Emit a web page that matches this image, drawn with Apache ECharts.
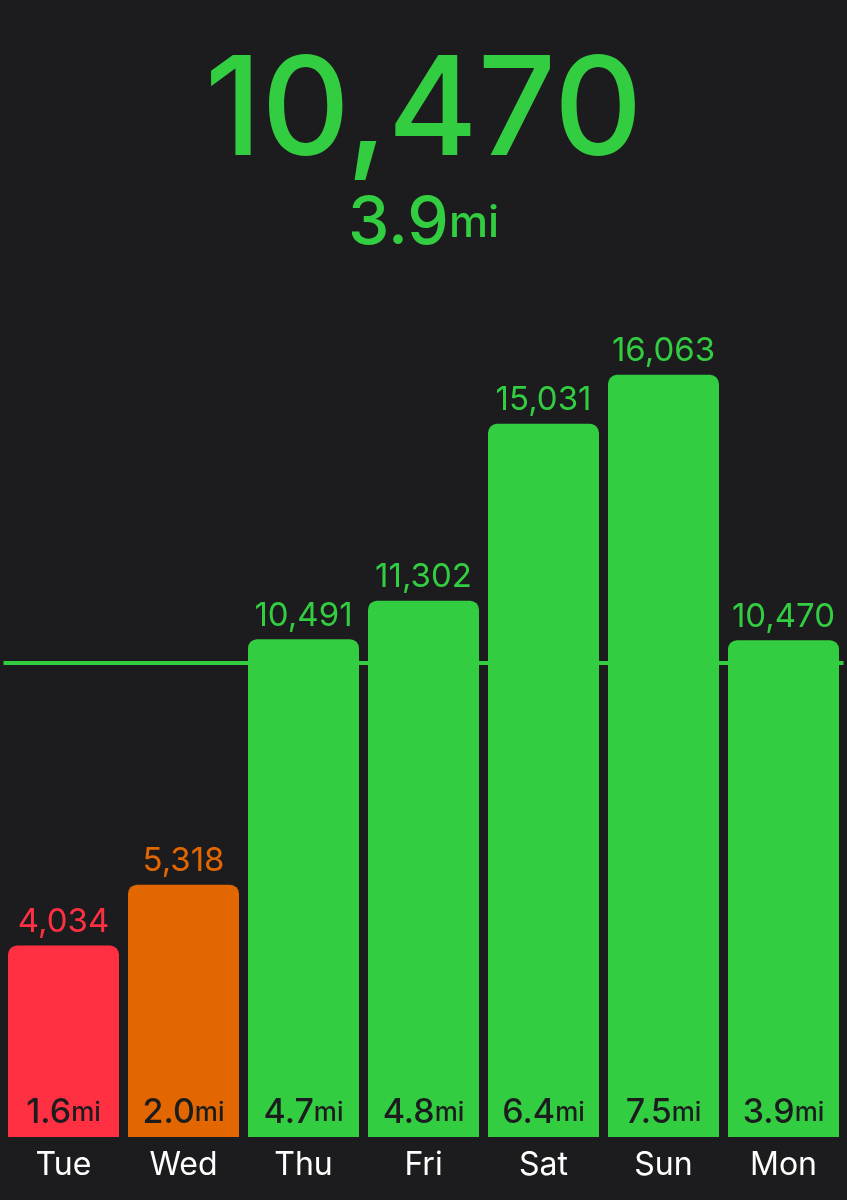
<!DOCTYPE html>
<html>
<head>
<meta charset="utf-8">
<style>
  html, body { margin: 0; padding: 0; background: #1c1c1e; }
  #main { width: 847px; height: 1200px; }
</style>
<script src="https://cdn.jsdelivr.net/npm/echarts@6/dist/echarts.min.js"></script>
</head>
<body>
<div id="main"></div>
<script>
const days = ['Tue', 'Wed', 'Thu', 'Fri', 'Sat', 'Sun', 'Mon']
const steps = [4034, 5318, 10491, 11302, 15031, 16063, 10470]
const miles = ['1.6', '2.0', '4.7', '4.8', '6.4', '7.5', '3.9']
const barColors = ['#ff3042', '#e36700', '#32cd40', '#32cd40', '#32cd40', '#32cd40', '#32cd40']
const goal = 10000
const todaySteps = '10,470'
const todayMiles = '3.9'

const GREEN = '#32cd40'
const BG = '#1c1c1e'
const FONT = 'Inter'

const chart = echarts.init(document.getElementById('main'))

const fmt = (v) => v.toLocaleString('en-US')

const option = {
  backgroundColor: BG,
  animation: false,
  title: [
    {
      text: todaySteps,
      left: 'center',
      top: 40,
      textStyle: { color: GREEN, fontSize: 137, fontWeight: 500, fontFamily: FONT },
    },
    {
      text: '{a|' + todayMiles + '}{b|mi}',
      left: 'center',
      top: 186,
      textStyle: {
        rich: {
          a: { color: GREEN, fontSize: 66, fontWeight: 500, fontFamily: FONT },
          b: { color: GREEN, fontSize: 44, fontWeight: 500, fontFamily: FONT },
        },
      },
    },
  ],
  grid: {
    left: 3.5,
    right: 3.5,
    bottom: 63,
    top: 188,
    containLabel: false,
  },
  xAxis: {
    type: 'category',
    data: days,
    axisLine: { show: false },
    axisTick: { show: false },
    axisLabel: { color: '#fff', fontSize: 32, fontFamily: FONT, margin: 12 },
  },
  yAxis: {
    type: 'value',
    min: 0,
    max: 20000,
    show: false,
    splitLine: { show: false },
  },
  series: [
    {
      type: 'bar',
      barCategoryGap: '7.5%',
      z: 2,
      data: steps.map((v, i) => ({
        value: v,
        itemStyle: { color: barColors[i], borderRadius: [9, 9, 0, 0] },
      })),
      label: {
        show: true,
        position: 'insideBottom',
        distance: 7,
        formatter: (p) => '{a|' + miles[p.dataIndex] + '}{b|mi}',
        rich: {
          a: { color: BG, fontSize: 34, fontWeight: 500, fontFamily: FONT },
          b: { color: BG, fontSize: 26, fontWeight: 500, fontFamily: FONT },
        },
      },
      markLine: {
        silent: true,
        symbol: 'none',
        label: { show: false },
        lineStyle: { color: GREEN, width: 4, type: 'solid' },
        data: [{ yAxis: goal }],
        z: 1,
      },
    },
    {
      type: 'bar',
      barGap: '-100%',
      barCategoryGap: '7.5%',
      z: 3,
      data: steps.map((v, i) => ({
        value: v,
        itemStyle: { color: 'transparent' },
        label: { color: barColors[i] },
      })),
      label: {
        show: true,
        position: 'top',
        distance: 7,
        fontSize: 33,
        fontFamily: FONT,
        formatter: (p) => fmt(p.value),
      },
    },
  ],
}

chart.setOption(option)
</script>
</body>
</html>
